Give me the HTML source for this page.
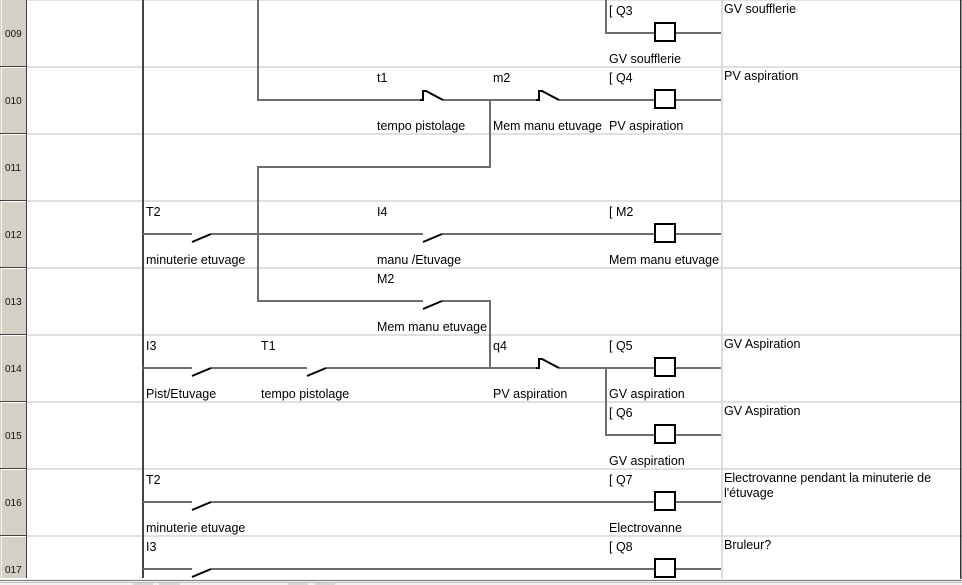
<!DOCTYPE html>
<html>
<head>
<meta charset="utf-8">
<style>
  html, body { margin: 0; padding: 0; background: #fff; }
  svg { display: block; }
  text { font-family: "Liberation Sans", Arial, sans-serif; font-size: 12.5px; fill: #000; }
  .rn { font-size: 10px; fill: #111; }
</style>
</head>
<body>
<svg width="962" height="585" viewBox="0 0 962 585" xmlns="http://www.w3.org/2000/svg">
  <rect x="0" y="0" width="962" height="585" fill="#ffffff"/>

  <!-- grid row lines -->
  <g fill="#e0e0e0">
    <rect x="27" y="0" width="935" height="1"/>
    <rect x="27" y="66" width="935" height="2"/>
    <rect x="27" y="133" width="935" height="2"/>
    <rect x="27" y="200" width="935" height="2"/>
    <rect x="27" y="267" width="935" height="2"/>
    <rect x="27" y="334" width="935" height="2"/>
    <rect x="27" y="401" width="935" height="2"/>
    <rect x="27" y="468" width="935" height="2"/>
    <rect x="27" y="535" width="935" height="2"/>
  </g>
  <!-- column separator -->
  <rect x="721" y="0" width="2" height="579" fill="#dcdcdc"/>
  <!-- right edge -->
  <rect x="960" y="0" width="1.5" height="579" fill="#333"/>

  <!-- row headers -->
  <rect x="0" y="0" width="26" height="578" fill="#d4d0c8"/>
  <rect x="1" y="0" width="1" height="578" fill="#f4f3ef"/>
  <rect x="26" y="0" width="1" height="578" fill="#404040"/>
  <g fill="#404040">
    <rect x="0" y="66" width="27" height="1"/>
    <rect x="0" y="133" width="27" height="1"/>
    <rect x="0" y="200" width="27" height="1"/>
    <rect x="0" y="267" width="27" height="1"/>
    <rect x="0" y="334" width="27" height="1"/>
    <rect x="0" y="401" width="27" height="1"/>
    <rect x="0" y="468" width="27" height="1"/>
    <rect x="0" y="535" width="27" height="1"/>
  </g>
  <g fill="#ffffff">
    <rect x="1" y="67" width="25" height="1"/>
    <rect x="1" y="134" width="25" height="1"/>
    <rect x="1" y="201" width="25" height="1"/>
    <rect x="1" y="268" width="25" height="1"/>
    <rect x="1" y="335" width="25" height="1"/>
    <rect x="1" y="402" width="25" height="1"/>
    <rect x="1" y="469" width="25" height="1"/>
    <rect x="1" y="536" width="25" height="1"/>
  </g>
  <text class="rn" x="5" y="37">009</text>
  <text class="rn" x="5" y="104">010</text>
  <text class="rn" x="5" y="171">011</text>
  <text class="rn" x="5" y="238">012</text>
  <text class="rn" x="5" y="305">013</text>
  <text class="rn" x="5" y="372">014</text>
  <text class="rn" x="5" y="439">015</text>
  <text class="rn" x="5" y="506">016</text>
  <text class="rn" x="5" y="573">017</text>

  <!-- power rail -->
  <line x1="143" y1="0" x2="143" y2="578" stroke="#444" stroke-width="2"/>

  <!-- wires -->
  <g stroke="#6e6e6e" stroke-width="2" fill="none">
    <path d="M606,0 V33 H655 M675,33 H721"/>
    <path d="M258,0 V100 H420 M443,100 H536 M559,100 H655 M675,100 H721"/>
    <path d="M490,100 V167 H258 V301 H423 M442,301 H490 V368"/>
    <path d="M143,234 H192 M211,234 H423 M442,234 H655 M675,234 H721"/>
    <path d="M143,368 H192 M211,368 H307 M326,368 H536 M559,368 H655 M675,368 H721"/>
    <path d="M606,368 V435 H655 M675,435 H721"/>
    <path d="M143,502 H192 M211,502 H655 M675,502 H721"/>
    <path d="M143,569 H192 M211,569 H655 M675,569 H721"/>
  </g>

  <!-- contacts -->
  <g stroke="#000" stroke-width="2" fill="none">
    <!-- NO -->
    <line x1="192" y1="242" x2="211" y2="234"/>
    <line x1="423" y1="242" x2="442" y2="234"/>
    <line x1="423" y1="309" x2="442" y2="301"/>
    <line x1="192" y1="376" x2="211" y2="368"/>
    <line x1="307" y1="376" x2="326" y2="368"/>
    <line x1="192" y1="510" x2="211" y2="502"/>
    <line x1="192" y1="577" x2="211" y2="569"/>
    <!-- NC -->
    <path d="M420,100 H423 V91 H426 L443,100"/>
    <path d="M536,100 H539 V91 H542 L559,100"/>
    <path d="M536,368 H539 V359 H542 L559,368"/>
  </g>

  <!-- coils -->
  <g stroke="#000" stroke-width="2" fill="#fff">
    <rect x="655" y="23" width="20" height="18"/>
    <rect x="655" y="90" width="20" height="18"/>
    <rect x="655" y="224" width="20" height="18"/>
    <rect x="655" y="358" width="20" height="18"/>
    <rect x="655" y="425" width="20" height="18"/>
    <rect x="655" y="492" width="20" height="18"/>
    <rect x="655" y="559" width="20" height="18"/>
  </g>

  <!-- labels row 009 -->
  <text x="609" y="15">[ Q3</text>
  <text x="609" y="63">GV soufflerie</text>
  <text x="724" y="13">GV soufflerie</text>

  <!-- row 010 -->
  <text x="377" y="82">t1</text>
  <text x="493" y="82">m2</text>
  <text x="609" y="82">[ Q4</text>
  <text x="377" y="130">tempo pistolage</text>
  <text x="493" y="130" textLength="109" lengthAdjust="spacingAndGlyphs">Mem manu etuvage</text>
  <text x="609" y="130">PV aspiration</text>
  <text x="724" y="80">PV aspiration</text>

  <!-- row 012 -->
  <text x="146" y="216">T2</text>
  <text x="377" y="216">I4</text>
  <text x="609" y="216">[ M2</text>
  <text x="146" y="264">minuterie etuvage</text>
  <text x="377" y="264">manu /Etuvage</text>
  <text x="609" y="264" textLength="110" lengthAdjust="spacingAndGlyphs">Mem manu etuvage</text>

  <!-- row 013 -->
  <text x="377" y="283">M2</text>
  <text x="377" y="331" textLength="110" lengthAdjust="spacingAndGlyphs">Mem manu etuvage</text>

  <!-- row 014 -->
  <text x="146" y="350">I3</text>
  <text x="261" y="350">T1</text>
  <text x="493" y="350">q4</text>
  <text x="609" y="350">[ Q5</text>
  <text x="146" y="398">Pist/Etuvage</text>
  <text x="261" y="398">tempo pistolage</text>
  <text x="493" y="398">PV aspiration</text>
  <text x="609" y="398">GV aspiration</text>
  <text x="724" y="348">GV Aspiration</text>

  <!-- row 015 -->
  <text x="609" y="417">[ Q6</text>
  <text x="609" y="465">GV aspiration</text>
  <text x="724" y="415">GV Aspiration</text>

  <!-- row 016 -->
  <text x="146" y="484">T2</text>
  <text x="609" y="484">[ Q7</text>
  <text x="146" y="532">minuterie etuvage</text>
  <text x="609" y="532">Electrovanne</text>
  <text x="724" y="482">Electrovanne pendant la minuterie de</text>
  <text x="724" y="497">l'étuvage</text>

  <!-- row 017 -->
  <text x="146" y="551">I3</text>
  <text x="609" y="551">[ Q8</text>
  <text x="724" y="549">Bruleur?</text>

  <!-- bottom strip -->
  <rect x="0" y="579" width="962" height="6" fill="#f2f2f2"/>
  <rect x="0" y="580" width="962" height="1" fill="#7a7a7a"/>
  <rect x="0" y="582" width="962" height="1" fill="#bdbdbd"/>
  <g fill="#d8d8d8">
    <rect x="133" y="583" width="20" height="2"/>
    <rect x="159" y="583" width="21" height="2"/>
    <rect x="288" y="583" width="20" height="2"/>
    <rect x="315" y="583" width="20" height="2"/>
  </g>
</svg>
</body>
</html>
